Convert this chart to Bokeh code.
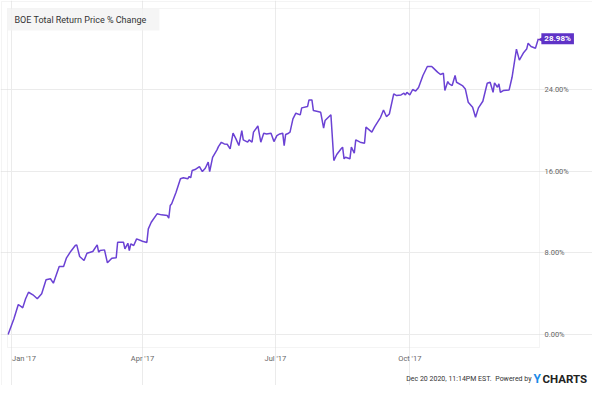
import pandas as pd
from bokeh.plotting import figure
from bokeh.models import (FixedTicker, PrintfTickFormatter, Label, Range1d,
                          ColumnDataSource, BoxAnnotation)
from bokeh.embed import file_html
from bokeh.resources import INLINE

# ---------------- data ----------------
dates = [
    "2016-12-30", "2017-01-03", "2017-01-06", "2017-01-08", "2017-01-09", "2017-01-11",
    "2017-01-13", "2017-01-16", "2017-01-19", "2017-01-22", "2017-01-25", "2017-01-28",
    "2017-01-30", "2017-02-03", "2017-02-06", "2017-02-08", "2017-02-11", "2017-02-14",
    "2017-02-15", "2017-02-17", "2017-02-20", "2017-02-22", "2017-02-26", "2017-03-01",
    "2017-03-02", "2017-03-03", "2017-03-06", "2017-03-08", "2017-03-11", "2017-03-14",
    "2017-03-15", "2017-03-19", "2017-03-20", "2017-03-22", "2017-03-23", "2017-03-24",
    "2017-03-26", "2017-03-28", "2017-04-01", "2017-04-04", "2017-04-05", "2017-04-07",
    "2017-04-11", "2017-04-14", "2017-04-18", "2017-04-19", "2017-04-20", "2017-04-21",
    "2017-04-24", "2017-04-27", "2017-04-29", "2017-05-02", "2017-05-03", "2017-05-04",
    "2017-05-05", "2017-05-07", "2017-05-10", "2017-05-12", "2017-05-14", "2017-05-16",
    "2017-05-17", "2017-05-19", "2017-05-22", "2017-05-23", "2017-05-25", "2017-05-27",
    "2017-05-29", "2017-05-31", "2017-06-02", "2017-06-04", "2017-06-06", "2017-06-08",
    "2017-06-09", "2017-06-12", "2017-06-13", "2017-06-15", "2017-06-16", "2017-06-19",
    "2017-06-21", "2017-06-23", "2017-06-25", "2017-06-28", "2017-06-30", "2017-07-02",
    "2017-07-04", "2017-07-06", "2017-07-07", "2017-07-08", "2017-07-10", "2017-07-11",
    "2017-07-13", "2017-07-15", "2017-07-18", "2017-07-19", "2017-07-23", "2017-07-24",
    "2017-07-26", "2017-07-27", "2017-07-30", "2017-08-01", "2017-08-03", "2017-08-04",
    "2017-08-08", "2017-08-10", "2017-08-12", "2017-08-15", "2017-08-16", "2017-08-17",
    "2017-08-18", "2017-08-21", "2017-08-22", "2017-08-24", "2017-08-25", "2017-08-28",
    "2017-08-31", "2017-09-01", "2017-09-05", "2017-09-07", "2017-09-11", "2017-09-13",
    "2017-09-15", "2017-09-17", "2017-09-20", "2017-09-22", "2017-09-25", "2017-09-27",
    "2017-09-28", "2017-09-29", "2017-10-01", "2017-10-03", "2017-10-05", "2017-10-07",
    "2017-10-10", "2017-10-13", "2017-10-16", "2017-10-17", "2017-10-20", "2017-10-22",
    "2017-10-24", "2017-10-25", "2017-10-27", "2017-10-28", "2017-10-30", "2017-11-01",
    "2017-11-02", "2017-11-06", "2017-11-08", "2017-11-10", "2017-11-13", "2017-11-15",
    "2017-11-17", "2017-11-20", "2017-11-23", "2017-11-25", "2017-11-27", "2017-11-28",
    "2017-11-30", "2017-12-01", "2017-12-02", "2017-12-04", "2017-12-08", "2017-12-10",
    "2017-12-13", "2017-12-15", "2017-12-18", "2017-12-20", "2017-12-21", "2017-12-23",
    "2017-12-26", "2017-12-28",
]
pct_change = [
    0.00, 1.54, 2.94, 2.74, 2.61, 3.50,
    4.14, 3.89, 3.50, 3.99, 5.36, 5.46,
    5.03, 6.66, 6.66, 7.51, 8.16, 8.72,
    8.78, 7.64, 7.25, 7.96, 8.13, 8.78,
    8.06, 8.23, 8.29, 7.02, 7.47, 7.51,
    9.04, 9.04, 8.39, 8.94, 8.23, 8.88,
    8.72, 9.37, 9.14, 9.01, 10.35, 11.00,
    11.82, 11.72, 11.65, 11.39, 12.63, 12.80,
    13.94, 15.25, 15.35, 15.25, 15.48, 15.35,
    16.06, 16.16, 16.45, 15.96, 16.29, 16.88,
    15.96, 17.36, 18.09, 18.41, 18.83, 18.67,
    18.64, 18.19, 19.72, 19.16, 18.51, 19.98,
    19.07, 18.84, 19.07, 18.84, 19.82, 20.43,
    18.84, 19.72, 19.65, 19.72, 18.90, 19.49,
    19.65, 19.72, 18.51, 19.59, 19.72, 19.82,
    21.13, 21.68, 21.52, 22.20, 22.33, 22.98,
    22.98, 21.94, 21.84, 21.77, 20.21, 20.96,
    21.52, 17.04, 17.63, 18.19, 18.35, 17.21,
    17.37, 17.21, 18.35, 17.76, 19.07, 18.84,
    18.74, 20.31, 19.82, 20.37, 21.28, 22.00,
    21.35, 21.60, 23.57, 23.41, 23.47, 23.64,
    23.47, 23.73, 23.47, 24.00, 23.85, 24.20,
    25.37, 26.25, 26.25, 26.12, 25.70, 25.47,
    25.59, 23.90, 24.78, 24.55, 24.39, 25.37,
    24.71, 24.39, 24.06, 22.75, 22.27, 21.28,
    22.20, 22.85, 24.61, 24.71, 23.73, 24.65,
    24.22, 24.55, 23.73, 23.90, 23.96, 25.20,
    27.96, 26.88, 27.63, 27.96, 28.53, 28.21,
    28.04, 28.98,
]
y_ticks = [0, 8, 16, 24]
x_tick_dates = ["2017-01-01", "2017-04-01", "2017-07-01", "2017-10-01"]
x_tick_labels = ["Jan '17", "Apr '17", "Jul '17", "Oct '17"]
title_text = "BOE Total Return Price % Change"
last_value_text = "28.98%"
footer_date = "Dec 20 2020, 11:14PM EST."
footer_powered = "Powered by"
logo_y = "Y"
logo_rest = "CHARTS"

# ---------------- styling / layout ----------------
FONT = "Roboto"
LINE_COLOR = "#6b42d4"
TAG_COLOR = "#5f33c7"
GRID_COLOR = "#ebebeb"
FRAME_COLOR = "#d9d9d9"
TEXT_GRAY = "#666666"
W, H = 592, 385


def ms(d):
    return pd.Timestamp(d).value / 1e6


# the chart box (plot area) as drawn in the reference
box_left = ms("2016-12-29 14:30")
box_right = ms("2017-12-28 19:00")
box_bottom, box_top = -1.2735, 31.936

source = ColumnDataSource(data=dict(x=pd.to_datetime(dates), y=pct_change))

p = figure(
    width=W, height=H,
    x_axis_type="datetime", y_axis_location="right",
    x_range=Range1d(ms("2016-12-24 19:29"), ms("2018-02-03 01:40")),
    y_range=Range1d(-4.996, 32.72),
    output_backend="svg", toolbar_location=None,
    min_border_left=0, min_border_top=0, min_border_right=0, min_border_bottom=0,
)
p.background_fill_color = "white"
p.border_fill_color = "white"
p.outline_line_color = None

x_ticks_ms = [ms(d) for d in x_tick_dates]

# x axis, drawn along the bottom edge of the chart box
xa = p.xaxis[0]
xa.fixed_location = box_bottom
xa.ticker = FixedTicker(ticks=x_ticks_ms)
overrides = {t: lab for t, lab in zip(x_ticks_ms, x_tick_labels)}
overrides[x_ticks_ms[0]] = ""
xa.major_label_overrides = overrides
xa.axis_line_color = None
xa.major_tick_line_color = None
xa.minor_tick_line_color = None
xa.major_tick_out = 0
xa.major_tick_in = 0
xa.major_label_standoff = 6
xa.major_label_text_font = FONT
xa.major_label_text_font_size = "7.5px"
xa.major_label_text_color = TEXT_GRAY

# y axis, drawn along the right edge of the chart box
ya = p.yaxis[0]
ya.fixed_location = box_right
ya.ticker = FixedTicker(ticks=y_ticks)
ya.formatter = PrintfTickFormatter(format="%.2f%%")
ya.axis_line_color = None
ya.major_tick_line_color = None
ya.minor_tick_line_color = None
ya.major_tick_out = 0
ya.major_tick_in = 0
ya.major_label_standoff = 5
ya.major_label_text_font = FONT
ya.major_label_text_font_size = "7.5px"
ya.major_label_text_color = TEXT_GRAY

p.xgrid.ticker = FixedTicker(ticks=x_ticks_ms)
p.ygrid.ticker = FixedTicker(ticks=y_ticks)
p.xgrid.bounds = (box_bottom, box_top)
p.ygrid.bounds = (box_left, box_right)
p.xgrid.grid_line_color = GRID_COLOR
p.ygrid.grid_line_color = GRID_COLOR

# outer light border of the picture and the chart box outline
p.add_layout(BoxAnnotation(left=1, right=W + 7, top=H - 1, bottom=-7,
                           left_units="screen", right_units="screen",
                           top_units="screen", bottom_units="screen",
                           fill_color=None, line_color="#dcdcdc", line_width=1))
p.add_layout(BoxAnnotation(left=box_left, right=box_right, top=box_top, bottom=box_bottom,
                           fill_color=None, line_color=FRAME_COLOR, line_width=1))

p.line("x", "y", source=source, line_color=LINE_COLOR, line_width=1.5)

# first x tick label sits to the right of its gridline
p.add_layout(Label(
    x=x_ticks_ms[0], y=box_bottom, x_offset=1, y_offset=-6,
    text=x_tick_labels[0], text_font=FONT, text_font_size="7.5px",
    text_color=TEXT_GRAY, text_align="left", text_baseline="top",
))

# title box
p.add_layout(Label(
    x=7, y=H - 8, x_units="screen", y_units="screen", anchor="top_left",
    text=title_text, text_font=FONT, text_font_size="9px", text_color="#333333",
    text_align="left", text_baseline="top",
    background_fill_color="#f3f3f3", background_fill_alpha=0.85, padding=(7, 13, 6, 6),
))

# last value tag
last_x = ms(dates[-1])
p.add_layout(Label(
    x=last_x, y=pct_change[-1], x_offset=4, anchor="center_right", text="\u25c0",
    text_font="DejaVu Sans", text_font_size="6px", text_color=TAG_COLOR,
))
p.add_layout(Label(
    x=last_x, y=pct_change[-1], x_offset=3, anchor="center_left", text=last_value_text,
    text_font=FONT, text_font_size="8px", text_font_style="bold", text_color="white",
    background_fill_color=TAG_COLOR, padding=(3, 3, 1, 1),
))

# footer (kept just inside the canvas bottom)
FOOT_Y = 7
p.add_layout(Label(
    x=491, y=FOOT_Y, x_units="screen", y_units="screen", text=footer_date,
    text_font=FONT, text_font_size="7px", text_color="#333333",
    text_align="right", text_baseline="alphabetic",
))
p.add_layout(Label(
    x=531, y=FOOT_Y, x_units="screen", y_units="screen", text=footer_powered,
    text_font=FONT, text_font_size="7px", text_color="#333333",
    text_align="right", text_baseline="alphabetic",
))
p.add_layout(Label(
    x=533, y=FOOT_Y, x_units="screen", y_units="screen", text=logo_y,
    text_font=FONT, text_font_size="12px", text_font_style="bold",
    text_color="#1a8be8", text_align="left", text_baseline="alphabetic",
))
p.add_layout(Label(
    x=542, y=FOOT_Y, x_units="screen", y_units="screen", text=logo_rest,
    text_font=FONT, text_font_size="11.5px", text_font_style="bold",
    text_color="#222222", text_align="left", text_baseline="alphabetic",
))

open("out.html", "w").write(file_html(p, INLINE))
